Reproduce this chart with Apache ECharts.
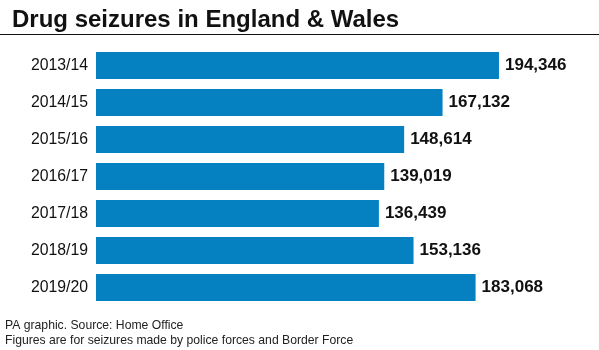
<!DOCTYPE html>
<html><head><meta charset="utf-8">
<script src="https://cdn.jsdelivr.net/npm/echarts@6/dist/echarts.min.js"></script>
<style>html,body{margin:0;padding:0;background:#fff}#c{width:599px;height:350px}</style>
</head><body><div id="c"></div>
<script>
const categories = ["2013/14","2014/15","2015/16","2016/17","2017/18","2018/19","2019/20"];
const seizures = [194346,167132,148614,139019,136439,153136,183068];
const titleText = "Drug seizures in England & Wales";
const footer1 = "PA graphic. Source: Home Office";
const footer2 = "Figures are for seizures made by police forces and Border Force";

const chart = echarts.init(document.getElementById('c'), null, {renderer:'canvas'});
chart.setOption({
  animation:false,
  backgroundColor:'#fff',
  title:{text:titleText,left:7,top:3,textStyle:{fontFamily:'Liberation Sans, Arial',fontSize:24,fontWeight:'bold',color:'#111'}},
  graphic:[
    {type:'line',shape:{x1:0,y1:34.5,x2:599,y2:34.5},style:{stroke:'#111',lineWidth:1.2}},
    {type:'text',left:5,top:320,style:{text:footer1,fontFamily:'Liberation Sans, Arial',fontSize:12.2,fill:'#222'}},
    {type:'text',left:5,top:335,style:{text:footer2,fontFamily:'Liberation Sans, Arial',fontSize:12.2,fill:'#222'}}
  ],
  grid:{left:96,top:47,height:259,width:414.7,containLabel:false},
  xAxis:{type:'value',min:0,max:200000,show:false},
  yAxis:{type:'category',data:categories,inverse:true,
    axisLine:{show:false},axisTick:{show:false},
    axisLabel:{margin:8,fontFamily:'Liberation Sans, Arial',fontSize:15.8,color:'#111'}},
  series:[{type:'bar',data:seizures,barCategoryGap:'27%',
    itemStyle:{color:'#0580c0'},
    label:{show:true,position:'right',distance:6,fontFamily:'Liberation Sans, Arial',fontSize:17,fontWeight:'bold',color:'#111',
      formatter:p=>p.value.toLocaleString('en-GB')}}]
});
</script></body></html>
